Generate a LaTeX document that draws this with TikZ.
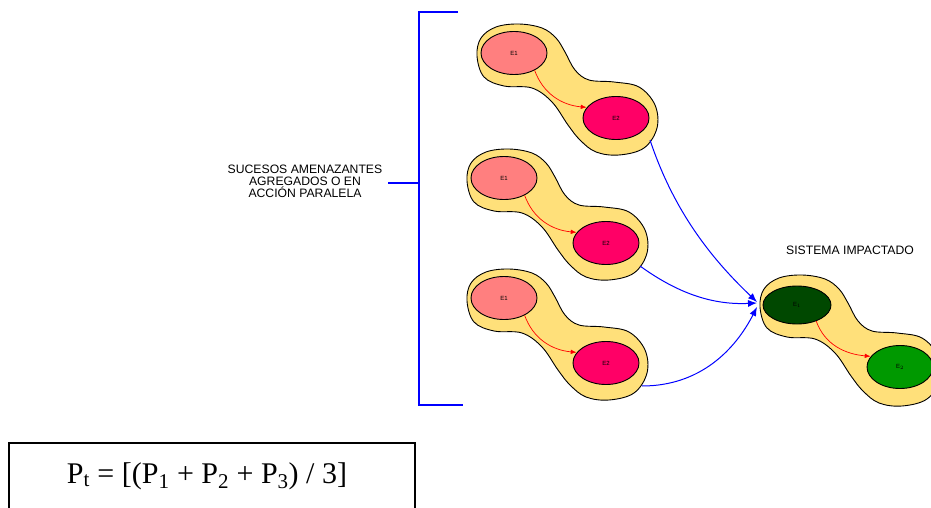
\documentclass[tikz,border=0pt]{standalone}
\usepackage{fontspec}
\setmainfont{Liberation Sans}
\newfontfamily\serifff{Liberation Serif}
\usetikzlibrary{arrows.meta,shapes.geometric}
\definecolor{blobY}{HTML}{FFE07A}
\definecolor{salmon}{HTML}{FF7F7F}
\definecolor{hotpink}{HTML}{FF0066}
\definecolor{dkgreen}{HTML}{004800}
\definecolor{mdgreen}{HTML}{009900}
\definecolor{brblue}{HTML}{0000FF}
\tikzset{
  blobline/.style={draw=black,line width=0.9pt,fill=blobY},
  evnode/.style={ellipse,draw=black,line width=0.9pt,minimum width=66pt,minimum height=43pt,inner sep=0pt,font=\fontsize{6}{7}\selectfont},
  redarr/.style={draw=red,line width=0.7pt,-{Latex[length=6pt,width=4.5pt]}},
  bluearr/.style={draw=brblue,line width=1pt,-{Latex[length=9pt,width=7pt]}},
  bracketline/.style={color=brblue,line width=1.15pt},
  capt/.style={font=\fontsize{12.2}{12}\selectfont,align=center},
  blobpic/.pic={\path[blobline] plot[smooth cycle,tension=0.6] coordinates {(-37,3) (-33,-15) (-18,-26) (5,-29) (28,-25) (42,-15) (51,-1) (61,17) (75,27) (100,29) (125,34) (141,52) (143,75) (130,95) (105,102) (82,99) (66,87) (54,72) (38,49) (18,35) (-10,33) (-30,24)};}
}
\begin{document}
\begin{tikzpicture}[x=1pt,y=-1pt]
\clip (0,0) rectangle (931,508);
\fill[white] (0,0) rectangle (931,508);
% blobs
\pic at (514,53) {blobpic};
\pic at (504,178) {blobpic};
\pic at (504,298) {blobpic};
\pic at (797,304) {blobpic};
% event nodes
\node[evnode,fill=salmon] (a1) at (514,53) {E1};
\node[evnode,fill=hotpink] (a2) at (616,118) {E2};
\node[evnode,fill=salmon] (b1) at (504,178) {E1};
\node[evnode,fill=hotpink] (b2) at (606,243) {E2};
\node[evnode,fill=salmon] (c1) at (504,298) {E1};
\node[evnode,fill=hotpink] (c2) at (606,363) {E2};
\node[evnode,fill=dkgreen,minimum height=38pt,minimum width=68pt] (s1) at (797,305) {E$_{1}$};
\node[evnode,fill=mdgreen] (s2) at (900,367) {E$_{2}$};
% red arrows
\draw[redarr] (a1.-40) to[out=-70,in=175] (a2.160);
\draw[redarr] (b1.-40) to[out=-70,in=175] (b2.160);
\draw[redarr] (c1.-40) to[out=-70,in=175] (c2.160);
\draw[redarr] (s1.-40) to[out=-70,in=175] (s2.160);
% blue arrows
\coordinate (ga) at (650,140);
\coordinate (gb) at (640,266);
\coordinate (gc) at (642,386);
\coordinate (hitA) at (757,302);
\coordinate (hitB) at (757,303);
\coordinate (hitC) at (757,307);
\draw[bluearr] (ga) .. controls (675,215) and (715,262) .. (hitA);
\draw[bluearr] (gb) .. controls (680,295) and (715,305) .. (hitB);
\draw[bluearr] (gc) .. controls (700,386) and (735,350) .. (hitC);
% bracket
\coordinate (brT) at (458,12);
\coordinate (brTL) at (419,12);
\coordinate (brBL) at (419,405);
\coordinate (brB) at (463,405);
\coordinate (brM) at (419,183);
\coordinate (tickL) at (388,183);
\draw[bracketline] (brT) -- (brTL) -- (brBL) -- (brB);
\draw[bracketline] (tickL) -- (brM);
% captions
\node[capt] (lab) at (305,181) {SUCESOS AMENAZANTES\\AGREGADOS O EN\\ACCIÓN PARALELA};
\node[capt] (sis) at (850,250) {SISTEMA IMPACTADO};
% formula box
\draw[line width=1.3pt] (9,530) -- (9,443) -- (415,443) -- (415,530);
\node[font=\serifff\fontsize{30}{32}\selectfont] (form) at (207,476) {P\textsubscript{t} = [(P\textsubscript{1} + P\textsubscript{2} + P\textsubscript{3}) / 3]};
\end{tikzpicture}
\end{document}
